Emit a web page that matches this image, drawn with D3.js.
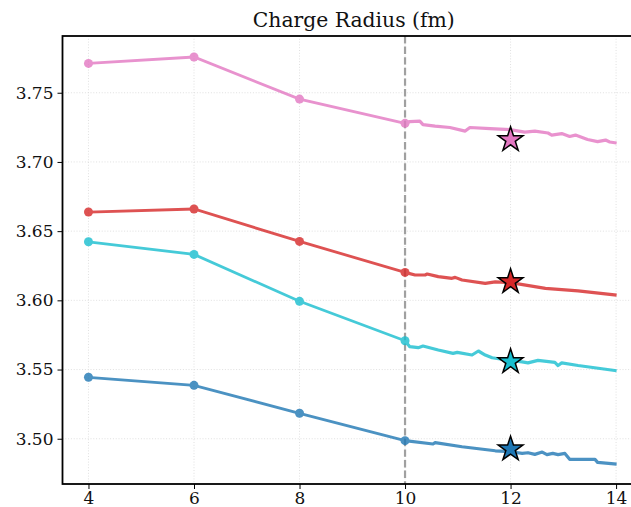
<!DOCTYPE html>
<html><head><meta charset="utf-8">
<script src="https://cdn.jsdelivr.net/npm/d3@7"></script>
<style>body{margin:0;background:#fff}svg{display:block}</style>
</head><body>
<svg id="c" width="631" height="507"></svg>
<script>
const title = "Charge Radius (fm)";
const xTicks = [4, 6, 8, 10, 12, 14];
const yTicks = [3.50, 3.55, 3.60, 3.65, 3.70, 3.75];
const coarseX = [4, 6, 8, 10];
const seriesNames = ["pink", "red", "cyan", "blue"];
const seriesColors = ["#e377c2", "#d62728", "#17becf", "#1f77b4"];
const coarsePink = [3.7712, 3.7758, 3.7454, 3.7279];
const coarseRed  = [3.6638, 3.6660, 3.6426, 3.6202];
const coarseCyan = [3.6423, 3.6332, 3.5993, 3.5708];
const coarseBlue = [3.5444, 3.5386, 3.5184, 3.4986];
const tailPink = [[10,3.7279],[10.09,3.7292],[10.28,3.7295],[10.34,3.7270],[10.57,3.7259],[10.85,3.7249],[11.14,3.7223],[11.23,3.7249],[11.61,3.7241],[11.99,3.7234],[12.27,3.7216],[12.46,3.7223],[12.71,3.7209],[12.78,3.7194],[12.97,3.7205],[13.12,3.7184],[13.23,3.7194],[13.46,3.7162],[13.65,3.7147],[13.80,3.7158],[13.88,3.7144],[14.01,3.7137]];
const tailRed = [[10,3.6202],[10.19,3.6183],[10.38,3.6183],[10.42,3.6190],[10.63,3.6171],[10.89,3.6159],[10.95,3.6166],[11.08,3.6147],[11.52,3.6123],[11.71,3.6134],[12.0,3.6128],[12.66,3.6087],[13.28,3.6069],[14.01,3.6038]];
const tailCyan = [[10,3.5708],[10.09,3.5665],[10.25,3.5658],[10.34,3.5670],[10.63,3.5641],[10.91,3.5617],[10.99,3.5624],[11.27,3.5605],[11.39,3.5634],[11.52,3.5605],[11.65,3.5585],[11.96,3.5567],[12.22,3.5555],[12.33,3.5548],[12.52,3.5566],[12.84,3.5552],[12.90,3.5529],[12.97,3.5548],[13.28,3.5529],[14.01,3.5491]];
const tailBlue = [[10,3.4986],[10.53,3.4962],[10.57,3.4972],[11.08,3.4942],[11.71,3.4913],[12.0,3.4906],[12.22,3.4894],[12.33,3.4899],[12.46,3.4887],[12.60,3.4904],[12.69,3.4885],[12.80,3.4894],[12.90,3.4885],[13.03,3.4894],[13.12,3.4851],[13.35,3.4851],[13.60,3.4851],[13.65,3.4829],[14.01,3.4817]];
const starX = 12;
const starVals = [3.7160, 3.6134, 3.5556, 3.4925];

const coarse = [coarsePink, coarseRed, coarseCyan, coarseBlue];
const tails = [tailPink, tailRed, tailCyan, tailBlue];

const svg = d3.select("#c");
const x = d3.scaleLinear().domain([3.5, 14.55]).range([62.1, 645.1]);
const y = d3.scaleLinear().domain([3.4673, 3.791]).range([484, 36]);
const L = 62.5, R = 645, T = 36, B = 484;
const font = "'DejaVu Serif', serif";

// grid
svg.append("g").selectAll("line").data(xTicks).join("line")
  .attr("x1", d => x(d)).attr("x2", d => x(d)).attr("y1", T).attr("y2", B)
  .attr("stroke", "#dcdcdc").attr("stroke-width", 0.9).attr("stroke-dasharray", "1,1.8");
svg.append("g").selectAll("line").data(yTicks).join("line")
  .attr("y1", d => y(d)).attr("y2", d => y(d)).attr("x1", L).attr("x2", R)
  .attr("stroke", "#dcdcdc").attr("stroke-width", 0.9).attr("stroke-dasharray", "1,1.8");

// vertical dashed line
svg.append("line").attr("x1", x(10)).attr("x2", x(10)).attr("y1", T).attr("y2", B)
  .attr("stroke", "#a0a0a0").attr("stroke-width", 2.2).attr("stroke-dasharray", "7.4,3.2");

const line = d3.line().x(d => x(d[0])).y(d => y(d[1]));
seriesNames.forEach((name, i) => {
  const c = seriesColors[i];
  const pts = coarseX.map((xv, j) => [xv, coarse[i][j]]);
  const g = svg.append("g").attr("class", "series-" + name).attr("opacity", 0.8);
  g.append("path").attr("d", line(pts)).attr("fill", "none").attr("stroke", c).attr("stroke-width", 2.8);
  g.append("path").attr("d", line(tails[i])).attr("fill", "none").attr("stroke", c).attr("stroke-width", 3.2).attr("stroke-linejoin", "round");
  g.selectAll("circle").data(pts).join("circle")
    .attr("cx", d => x(d[0])).attr("cy", d => y(d[1])).attr("r", 4.5).attr("fill", c);
});
// stars
const star = d3.symbol().type(d3.symbolStar).size(190);
svg.append("g").selectAll("path").data(starVals).join("path")
  .attr("d", star).attr("transform", d => `translate(${x(starX)},${y(d)})`)
  .attr("fill", (d, i) => seriesColors[i]).attr("stroke", "#000").attr("stroke-width", 1.5)
  .attr("stroke-linejoin", "miter");

// axes
const xa = svg.append("g").attr("transform", `translate(0,${B})`)
  .call(d3.axisBottom(x).tickValues(xTicks).tickFormat(d3.format("d")).tickSize(5).tickPadding(3));
const ya = svg.append("g").attr("transform", `translate(${L},0)`)
  .call(d3.axisLeft(y).tickValues(yTicks).tickFormat(d3.format(".2f")).tickSize(5).tickPadding(4));
[xa, ya].forEach(a => {
  a.select(".domain").remove();
  a.selectAll("line").attr("stroke", "#000").attr("stroke-width", 1);
  a.selectAll("text").attr("font-family", font).attr("font-size", 17).attr("fill", "#111");
});
// spines
svg.append("rect").attr("x", L).attr("y", T).attr("width", R - L).attr("height", B - T)
  .attr("fill", "none").attr("stroke", "#000").attr("stroke-width", 1.8);

svg.append("text").attr("x", (L + R) / 2).attr("y", 27).attr("text-anchor", "middle")
  .attr("font-family", font).attr("font-size", 21).attr("fill", "#111")
  .attr("textLength", 202).attr("lengthAdjust", "spacingAndGlyphs").text(title);
</script>
</body></html>
